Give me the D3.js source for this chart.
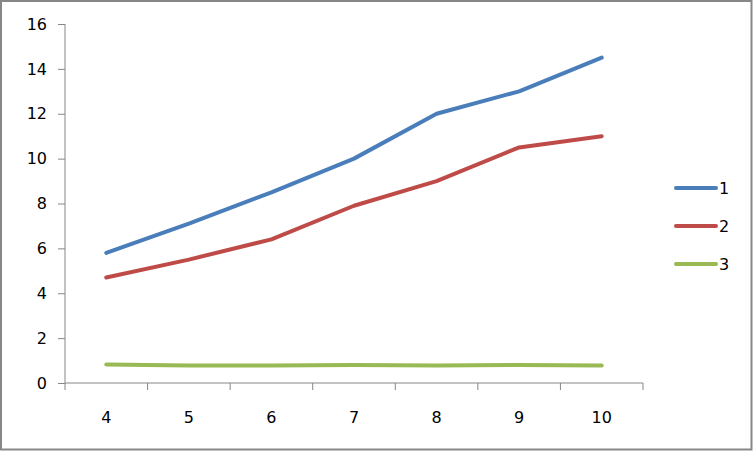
<!DOCTYPE html>
<html><head><meta charset="utf-8">
<script src="https://cdn.jsdelivr.net/npm/d3@7/dist/d3.min.js"></script>
<style>body{margin:0;background:#fff}svg{display:block}</style>
</head><body>
<script>
const categories = [4, 5, 6, 7, 8, 9, 10];
const series1 = [5.8, 7.1, 8.5, 10.0, 12.0, 13.0, 14.5];
const series2 = [4.7, 5.5, 6.4, 7.9, 9.0, 10.5, 11.0];
const series3 = [0.82, 0.78, 0.78, 0.8, 0.78, 0.8, 0.78];
const seriesNames = ["1", "2", "3"];
const yTicks = [0, 2, 4, 6, 8, 10, 12, 14, 16];
const colors = ["#4A7EBB", "#BE4B48", "#98B954"];

(function () {
const W = 753, H = 451;
const svg = d3.select("body").append("svg").attr("width", W).attr("height", H);
const font = "DejaVu Sans";

svg.append("rect").attr("x", 1).attr("y", 1).attr("width", W - 2.5).attr("height", H - 2.5)
  .attr("fill", "#fff").attr("stroke", "#878787").attr("stroke-width", 2);

const pLeft = 65, pRight = 643, pTop = 24, pBottom = 383;
const x = d3.scaleBand().domain(categories).range([pLeft, pRight]);
const y = d3.scaleLinear().domain([0, 16]).range([pBottom, pTop]);
const axisColor = "#868686";

// Y axis
const gy = svg.append("g").attr("transform", `translate(${pLeft},0)`)
  .call(d3.axisLeft(y).tickValues(yTicks).tickSize(7).tickPadding(11));
gy.select(".domain").attr("stroke", axisColor).attr("d", `M0,${pBottom}V${pTop}`);
gy.selectAll(".tick line").attr("stroke", axisColor);
gy.selectAll("text").attr("font-family", font).attr("font-size", 16).attr("fill", "#000");

// X axis
const gx = svg.append("g").attr("transform", `translate(0,${pBottom})`);
gx.append("line").attr("x1", pLeft).attr("x2", pRight).attr("stroke", axisColor);
const edges = categories.map(c => x(c)).concat([pRight]);
gx.selectAll("line.t").data(edges).join("line").attr("class", "t")
  .attr("x1", d => d).attr("x2", d => d).attr("y1", 0).attr("y2", 7).attr("stroke", axisColor);
gx.selectAll("text").data(categories).join("text")
  .attr("x", d => x(d) + x.bandwidth() / 2).attr("y", 40)
  .attr("text-anchor", "middle").attr("font-family", font).attr("font-size", 16).text(d => d);

// Lines
const data = [series1, series2, series3];
const line = d3.line().x((d, i) => x(categories[i]) + x.bandwidth() / 2).y(d => y(d));
data.forEach((s, k) => {
  svg.append("path").datum(s).attr("d", line).attr("fill", "none")
    .attr("stroke", colors[k]).attr("stroke-width", 4)
    .attr("stroke-linecap", "round").attr("stroke-linejoin", "round");
});

// Legend
const lg = svg.append("g");
seriesNames.forEach((n, k) => {
  const ly = 188 + k * 38;
  lg.append("line").attr("x1", 676).attr("x2", 716).attr("y1", ly).attr("y2", ly)
    .attr("stroke", colors[k]).attr("stroke-width", 4).attr("stroke-linecap", "round");
  lg.append("text").attr("x", 719).attr("y", ly).attr("dy", "0.36em")
    .attr("font-family", font).attr("font-size", 16).text(n);
});
})();
</script>
</body></html>
